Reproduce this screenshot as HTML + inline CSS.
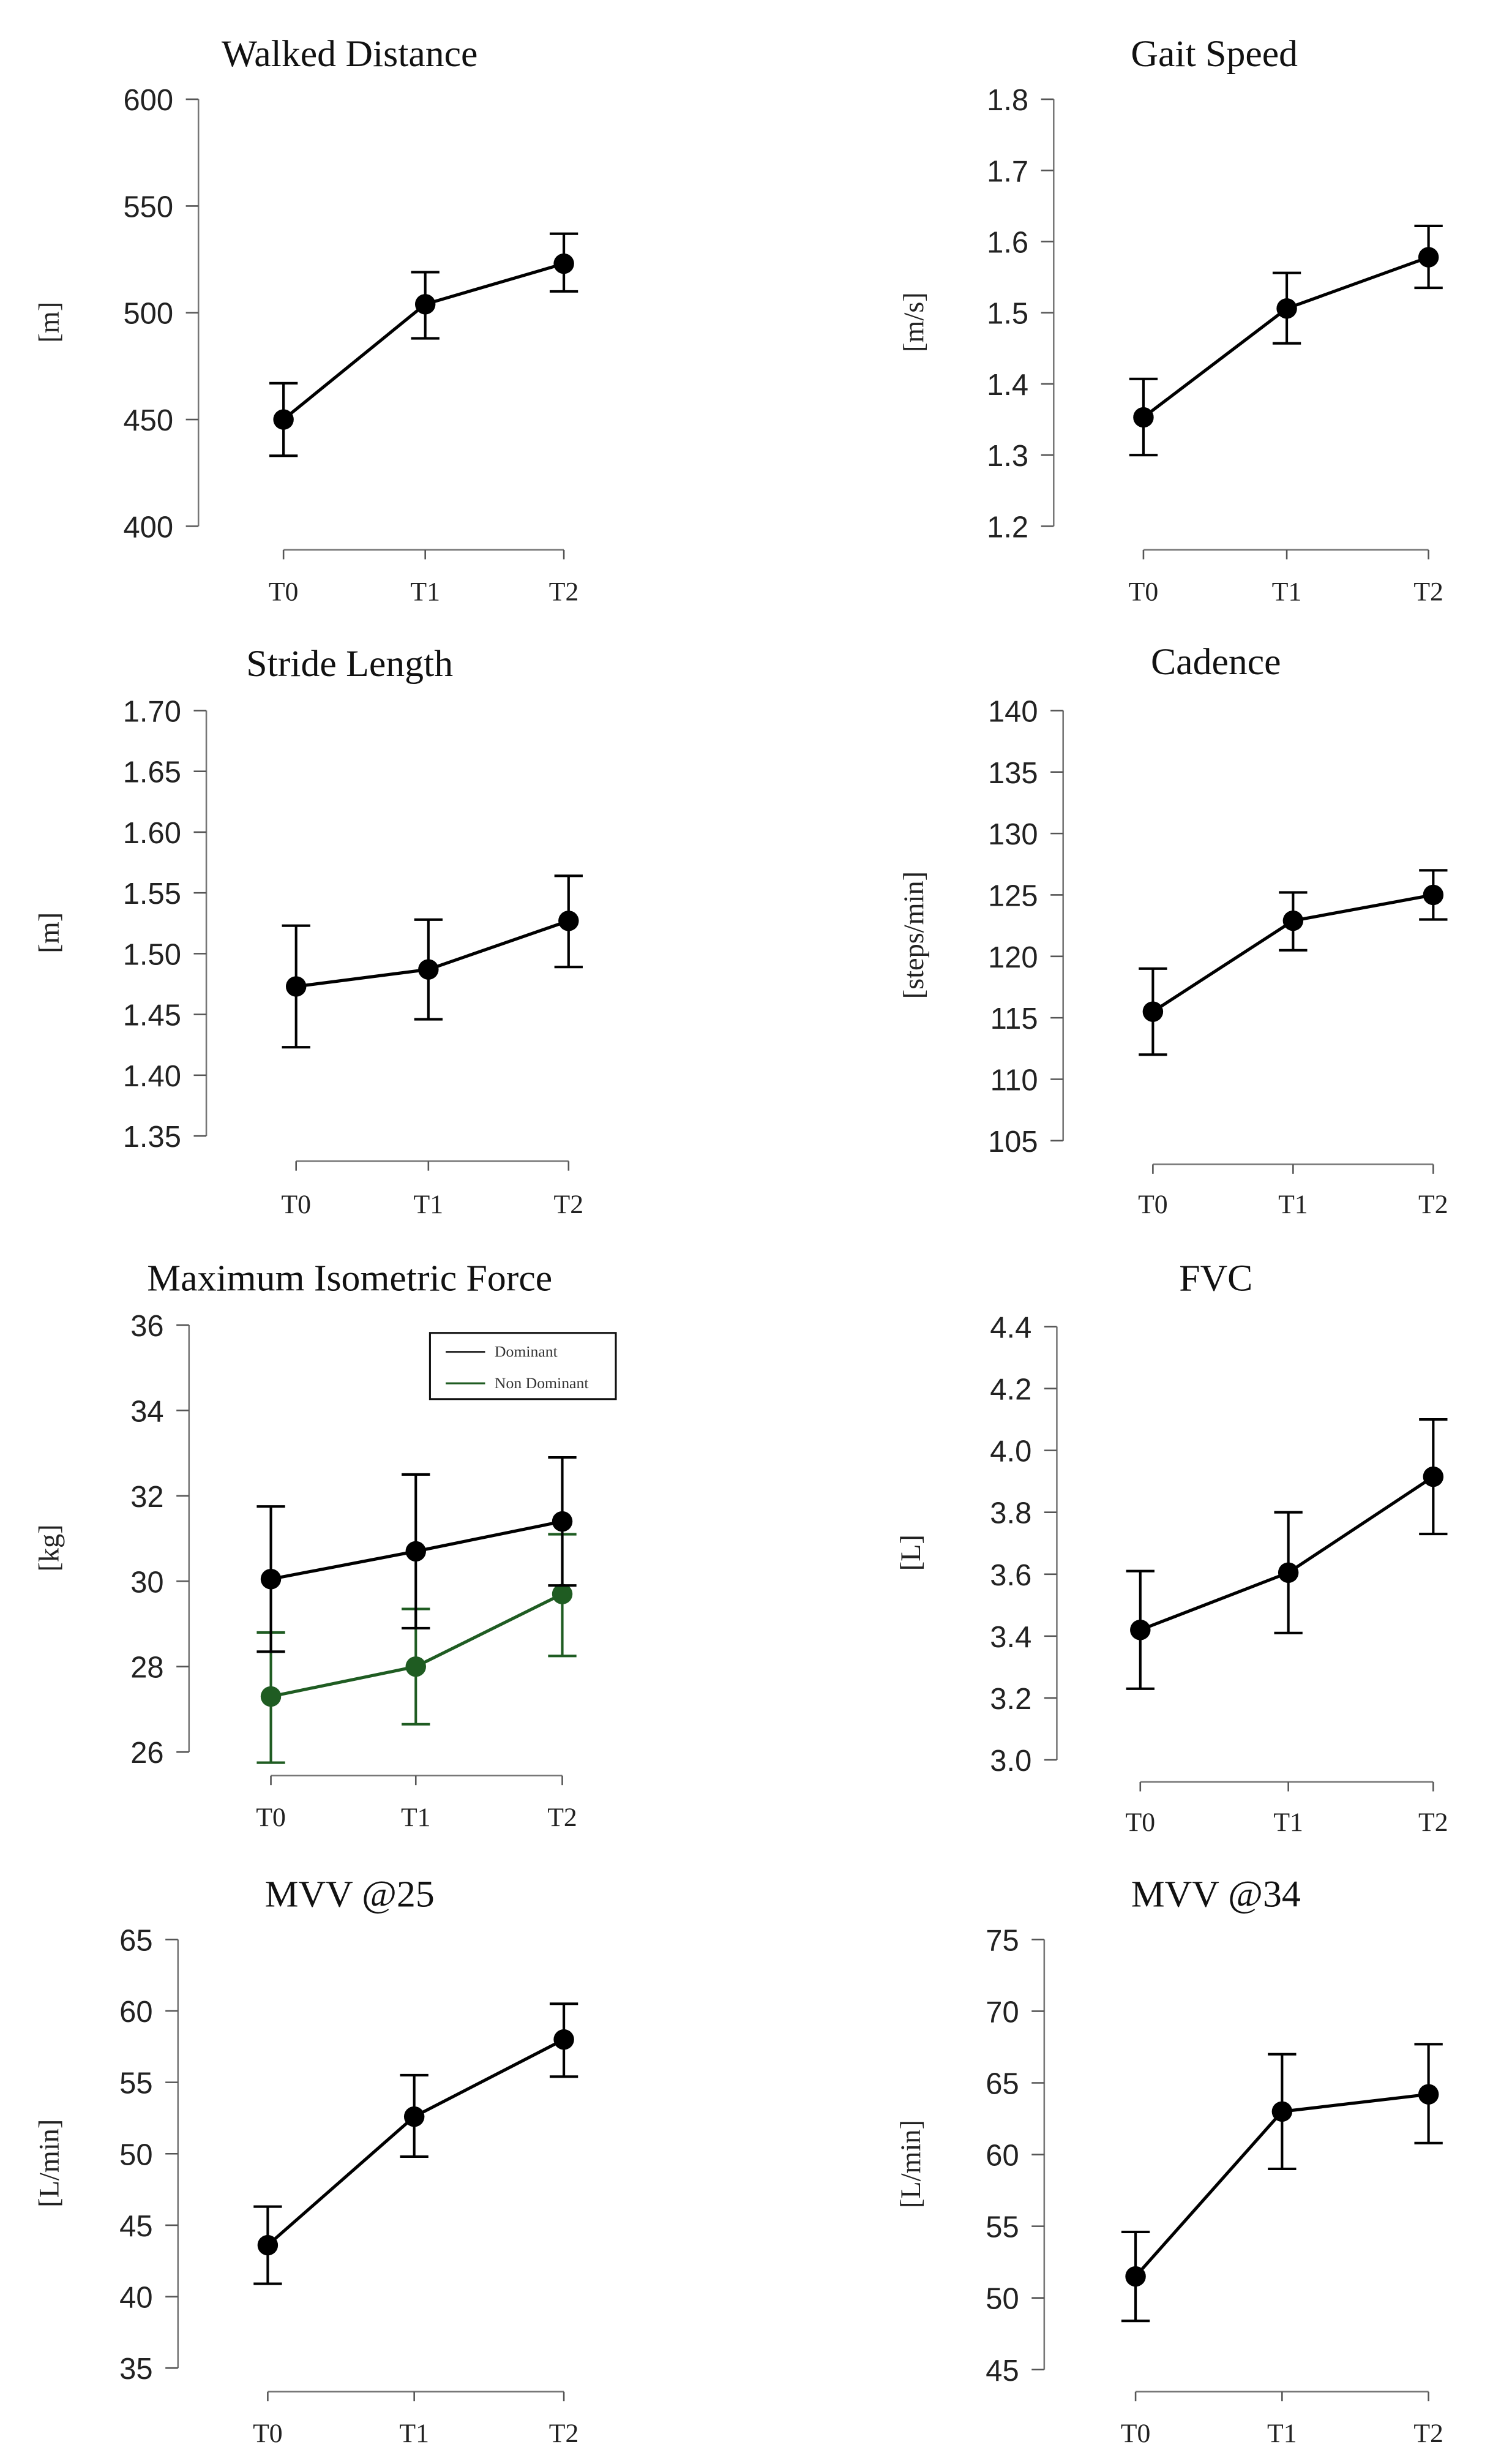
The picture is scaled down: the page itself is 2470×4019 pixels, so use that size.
<!DOCTYPE html>
<html><head><meta charset="utf-8"><style>
html,body{margin:0;padding:0;background:#fff;}
svg{display:block;}
</style></head><body>
<svg id="chart" width="2470" height="4019" viewBox="0 0 960 1562" preserveAspectRatio="none" xmlns="http://www.w3.org/2000/svg"></svg>
<script>
const timepoints = ["T0","T1","T2"];
const titles = ["Walked Distance","Gait Speed","Stride Length","Cadence","Maximum Isometric Force","FVC","MVV @25","MVV @34"];
const units = ["[m]","[m/s]","[m]","[steps/min]","[kg]","[L]","[L/min]","[L/min]"];
const yTicks = [
  [400,450,500,550,600],
  [1.2,1.3,1.4,1.5,1.6,1.7,1.8],
  [1.35,1.40,1.45,1.50,1.55,1.60,1.65,1.70],
  [105,110,115,120,125,130,135,140],
  [26,28,30,32,34,36],
  [3.0,3.2,3.4,3.6,3.8,4.0,4.2,4.4],
  [35,40,45,50,55,60,65],
  [45,50,55,60,65,70,75]
];
const tickDecimals = [0,1,2,0,0,1,0,0];
const means = [
  [450,504,523],
  [1.353,1.506,1.578],
  [1.473,1.487,1.527],
  [115.5,122.9,125.0],
  [30.05,30.7,31.4],
  [3.42,3.605,3.915],
  [43.6,52.6,58.0],
  [51.5,63.0,64.2]
];
const lows = [
  [433,488,510],
  [1.300,1.457,1.535],
  [1.423,1.446,1.489],
  [112,120.5,123],
  [28.35,28.9,29.9],
  [3.23,3.41,3.73],
  [40.9,49.8,55.4],
  [48.4,59.0,60.8]
];
const highs = [
  [467,519,537],
  [1.407,1.556,1.622],
  [1.523,1.528,1.564],
  [119,125.2,127],
  [31.75,32.5,32.9],
  [3.61,3.80,4.10],
  [46.3,55.5,60.5],
  [54.6,67.0,67.7]
];
const nonDomMeans = [27.3,28.0,29.7];
const nonDomLows = [25.75,26.65,28.25];
const nonDomHighs = [28.8,29.35,31.1];
const legendLabels = ["Dominant","Non Dominant"];

// layout (viewBox units)
const layout = [
  {ax:126,top:63,bot:334,xa:349,tx:[180,270,358],tl:375,cx:222,ty:34,lx:33},
  {ax:669,top:63,bot:334,xa:349,tx:[726,817,907],tl:375,cx:771,ty:34,lx:582},
  {ax:131,top:451,bot:721,xa:737,tx:[188,272,361],tl:764,cx:222,ty:421,lx:33},
  {ax:675,top:451,bot:724,xa:739,tx:[732,821,910],tl:764,cx:772,ty:420,lx:582},
  {ax:120,top:841,bot:1112,xa:1127,tx:[172,264,357],tl:1153,cx:222,ty:811,lx:33},
  {ax:671,top:842,bot:1117,xa:1131,tx:[724,818,910],tl:1156,cx:772,ty:811,lx:580},
  {ax:113,top:1231,bot:1503,xa:1518,tx:[170,263,358],tl:1544,cx:222,ty:1202,lx:33},
  {ax:663,top:1231,bot:1504,xa:907,tx:[721,814,907],tl:1544,cx:772,ty:1202,lx:580}
];
layout[7].xa = 1518;

const NS = "http://www.w3.org/2000/svg";
const svg = document.getElementById("chart");
function el(tag, attrs, parent, text){
  const e = document.createElementNS(NS, tag);
  for (const k in attrs) e.setAttribute(k, attrs[k]);
  if (text !== undefined) e.textContent = text;
  parent.appendChild(e);
  return e;
}
function drawSeries(g, L, yScale, m, lo, hi, color, prefix){
  const line = el("polyline", {points: m.map((v,i)=>L.tx[i]+","+yScale(v)).join(" "), fill:"none", stroke:color, "stroke-width":2}, g);
  
  
  m.forEach((v,i)=>{
    const x = L.tx[i];
    const eb = el("path", {d:`M${x},${yScale(lo[i])}V${yScale(hi[i])}M${x-9},${yScale(lo[i])}H${x+9}M${x-9},${yScale(hi[i])}H${x+9}`, stroke:color, "stroke-width":1.6, fill:"none"}, g);
    
    
    const c = el("circle", {cx:x, cy:yScale(v), r:6.5, fill:color}, g);
    
    
  });
}

titles.forEach((t, p)=>{
  const L = layout[p];
  const ticks = yTicks[p];
  const ymin = ticks[0], ymax = ticks[ticks.length-1];
  const yScale = v => L.bot - (v - ymin) / (ymax - ymin) * (L.bot - L.top);
  const g = el("g", {}, svg);
  
  

  const title = el("text", {x:L.cx, y:L.ty+8, "text-anchor":"middle", "font-family":"Liberation Serif, serif", "font-size":24, fill:"#111"}, g, t);
  
  

  const ylab = el("text", {x:L.lx, y:L.top+ (L.bot-L.top)/2 + 6, transform:`rotate(-90 ${L.lx} ${L.top+(L.bot-L.top)/2+6})`, "text-anchor":"middle", "dominant-baseline":"middle", "font-family":"Liberation Serif, serif", "font-size":18, fill:"#222"}, g, units[p]);
  
  

  const yAxis = el("line", {x1:L.ax, y1:yScale(ymin), x2:L.ax, y2:yScale(ymax), stroke:"#777", "stroke-width":1}, g);
  
  
  ticks.forEach(v=>{
    const y = yScale(v);
    const tk = el("line", {x1:L.ax-8, y1:y, x2:L.ax, y2:y, stroke:"#555", "stroke-width":1}, g);
    
    
    const tl = el("text", {x:L.ax-16, y:y+7, "text-anchor":"end", "font-family":"Liberation Sans, sans-serif", "font-size":19, fill:"#222"}, g, v.toFixed(tickDecimals[p]));
    
    
  });

  const xAxis = el("line", {x1:L.tx[0], y1:L.xa, x2:L.tx[2], y2:L.xa, stroke:"#777", "stroke-width":1}, g);
  
  
  timepoints.forEach((tp,i)=>{
    const tk = el("line", {x1:L.tx[i], y1:L.xa, x2:L.tx[i], y2:L.xa+6, stroke:"#555", "stroke-width":1}, g);
    
    
    const tl = el("text", {x:L.tx[i], y:L.tl+6, "text-anchor":"middle", "font-family":"Liberation Serif, serif", "font-size":17, fill:"#222"}, g, tp);
    
    
  });

  if (p === 4) {
    drawSeries(g, L, yScale, nonDomMeans, nonDomLows, nonDomHighs, "#1f5c22", "non-dominant");
  }
  drawSeries(g, L, yScale, means[p], lows[p], highs[p], "#000", p===4 ? "dominant" : "series");

  if (p === 4) {
    const lg = el("g", {}, g);
    
    
    el("rect", {x:273, y:846, width:118, height:42, fill:"#fff", stroke:"#111", "stroke-width":1.2}, lg);
    const colors = ["#222","#1f5c22"];
    legendLabels.forEach((lab,i)=>{
      const y = 858 + i*20;
      const ln = el("line", {x1:283, y1:y, x2:308, y2:y, stroke:colors[i], "stroke-width":1.2}, lg);
      
      
      const tx = el("text", {x:314, y:y+3, "font-family":"Liberation Serif, serif", "font-size":10, fill:"#333"}, lg, lab);
      
      
    });
  }
});
</script>
</body></html>
